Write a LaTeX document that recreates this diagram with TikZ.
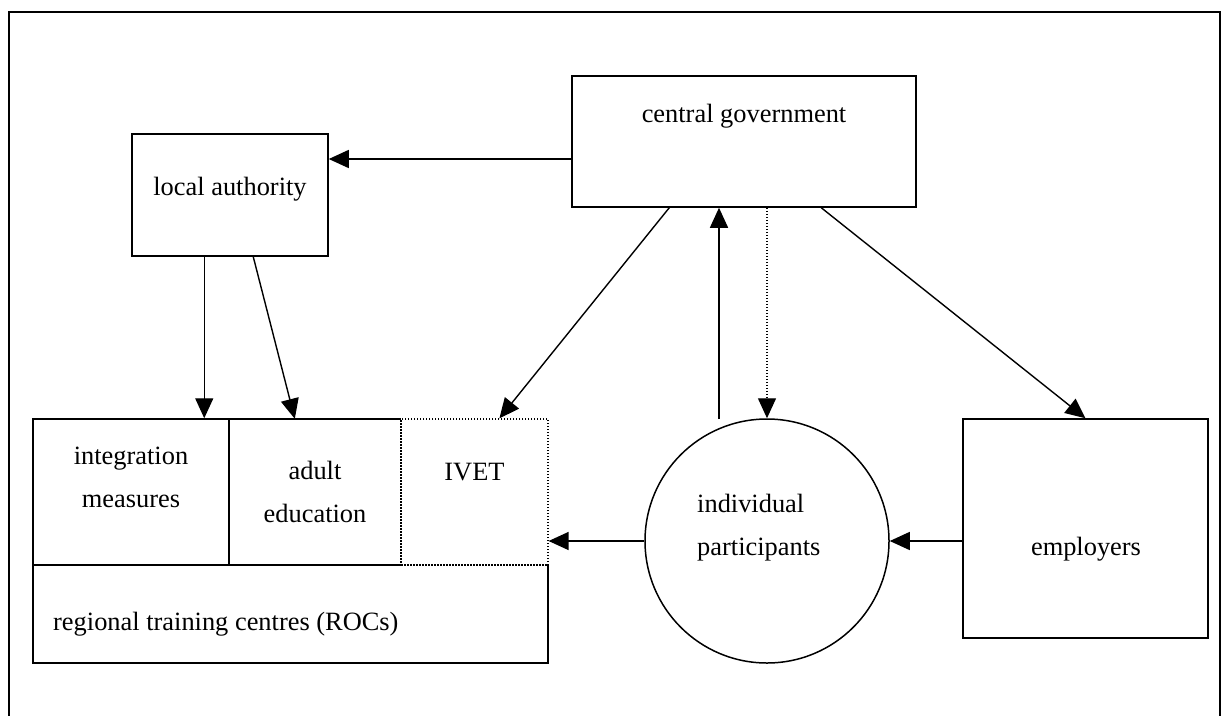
\documentclass[tikz,border=0pt]{standalone}
\usepackage{fontspec}
\setmainfont{Liberation Serif}
\usetikzlibrary{arrows.meta,positioning}
\begin{document}
\begin{tikzpicture}[x=1pt,y=-1pt,
  box/.style={draw,line width=1.5pt,rectangle,inner sep=0pt},
  plain/.style={rectangle,inner sep=0pt},
  dotbox/.style={draw,line width=1.2pt,dash pattern=on 1.5pt off 1.5pt,rectangle,inner sep=0pt},
  lbl/.style={inner sep=0pt,anchor=base,font=\fontsize{26.4}{43}\selectfont},
  lblw/.style={inner sep=0pt,anchor=base west,font=\fontsize{26.4}{43}\selectfont},
  arr/.style={line width=1.4pt,-{Triangle[length=20pt,width=18pt]}},
  dotarr/.style={line width=1.4pt,dash pattern=on 1.5pt off 1.5pt,-{Triangle[length=20pt,width=18pt]}}
]
\useasboundingbox (0,0) rectangle (1222,715);
\clip (0,0) rectangle (1222,715);
% outer frame
\draw[line width=2pt] (9,730) -- (9,12) -- (1220,12) -- (1220,730);

% boxes
\node[box,minimum width=344pt,minimum height=131pt] (cg) at (744,141.5) {};
\node[box,minimum width=196pt,minimum height=122pt] (la) at (230,195) {};
\node[box,minimum width=245pt,minimum height=219pt] (emp) at (1085.5,528.5) {};
\node[draw,line width=1.5pt,circle,inner sep=0pt,minimum size=244pt] (ip) at (767,541) {};
\node[box,minimum width=196pt,minimum height=146pt] (integ) at (131,492) {};
\node[plain,minimum width=172pt,minimum height=146pt] (adult) at (315,492) {};
\node[plain,minimum width=515pt,minimum height=98pt] (roc) at (290.5,614) {};
\draw[line width=1.5pt] (adult.north west) -- (adult.north east);
\draw[line width=1.5pt] (adult.south west) -- (adult.south east);
\draw[line width=1.5pt] (roc.north east) -- (roc.south east) -- (roc.south west) -- (roc.north west);
\node[dotbox,minimum width=147pt,minimum height=146pt] (ivet) at (474.5,492) {};

% labels
\node[lbl] (tcg) at (744,122) {central government};
\node[lbl] (tla) at (230,195) {local authority};
\node[lbl,align=center] (tint) at (131,507) {integration\\measures};
\node[lbl,align=center] (tad) at (315,522) {adult\\education};
\node[lbl] (tiv) at (474.5,480) {IVET};
\node[lblw] (troc) at (53,630) {regional training centres (ROCs)};
\node[lblw,align=left] (tip) at (697,555) {individual\\participants};
\node[lbl] (temp) at (1086,555) {employers};

% connectors
\draw[arr] ([yshift=-17.5pt]cg.west) -- ([yshift=-17.5pt]cg.west -| la.east);
\draw[arr] ([xshift=73pt]la.south west) -- ([xshift=73pt]la.south west |- integ.north);
\draw[arr] ([xshift=122pt]la.south west) -- ([xshift=66pt]adult.north west);
\draw[arr] ([xshift=98pt]cg.south west) -- ([xshift=99pt]ivet.north west);
\coordinate (upstart) at (719,419);
\draw[arr] (upstart) -- (upstart |- cg.south);
\draw[dotarr] (ip.north |- cg.south) -- (ip.north);
\draw[arr] ([xshift=250pt]cg.south west) -- (emp.north);
\draw[arr] (ip.west) -- (ip.west -| ivet.east);
\draw[arr] (ip.east -| emp.west) -- (ip.east);
\end{tikzpicture}
\end{document}
